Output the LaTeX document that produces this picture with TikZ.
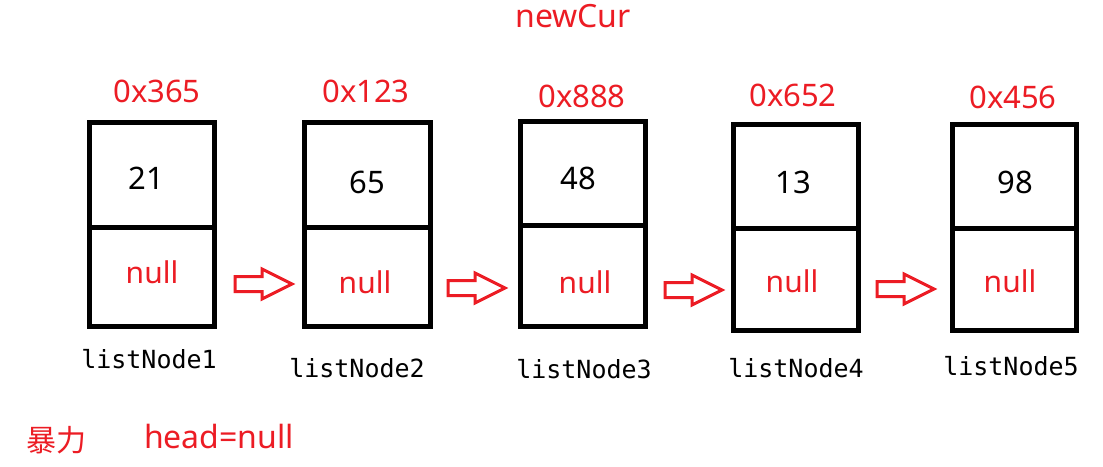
\documentclass[tikz,border=0pt]{standalone}
\usepackage{fontspec}
\setmainfont{Noto Sans}
\setmonofont{DejaVu Sans Mono}
\newfontfamily\cjk{Noto Sans CJK SC}
\definecolor{mred}{RGB}{236,28,36}
\begin{document}
\begin{tikzpicture}[x=1pt,y=-1pt,
  cellbox/.style={draw=black,line width=5pt,inner sep=0pt,minimum width=#1},
  val/.style={anchor=base,inner sep=0pt,font=\fontsize{31}{32}\selectfont},
  nul/.style={anchor=base,inner sep=0pt,text=mred,font=\fontsize{30}{32}\selectfont},
  addr/.style={anchor=base,inner sep=0pt,text=mred,font=\fontsize{31}{32}\selectfont},
  lname/.style={anchor=base,inner sep=0pt,font=\ttfamily\fontsize{25}{26}\selectfont},
  redtxt/.style={anchor=base,inner sep=0pt,text=mred,font=\fontsize{32}{34}\selectfont},
  harrow/.pic={\draw[mred,line width=3pt,line join=miter] (0,-7.5) -- (27,-7.5) -- (27,-15) -- (57,0) -- (27,15) -- (27,7.5) -- (0,7.5) -- cycle;}
]
\path[use as bounding box,fill=white] (0,0) rectangle (1103,466);

% boxes
\node[cellbox=125,minimum height=105] (c1t) at (151.5,174.5) {};
\node[cellbox=125,minimum height=99]  (c1b) at (151.5,276.5) {};
\node[cellbox=126,minimum height=105] (c2t) at (367,174.5) {};
\node[cellbox=126,minimum height=99]  (c2b) at (367,276.5) {};
\node[cellbox=125,minimum height=104] (c3t) at (582.5,173) {};
\node[cellbox=125,minimum height=101] (c3b) at (582.5,275.5) {};
\node[cellbox=125,minimum height=104] (c4t) at (795.5,176) {};
\node[cellbox=125,minimum height=102] (c4b) at (795.5,279) {};
\node[cellbox=124,minimum height=104] (c5t) at (1014,176) {};
\node[cellbox=124,minimum height=102] (c5b) at (1014,279) {};

% values
\node[val] (v1) at (146,189) {21};
\node[val] (v2) at (367,193) {65};
\node[val] (v3) at (578,189) {48};
\node[val] (v4) at (793,193) {13};
\node[val] (v5) at (1015,193) {98};

% null
\node[nul] (n1) at (152,283) {null};
\node[nul] (n2) at (365,293) {null};
\node[nul] (n3) at (585,293) {null};
\node[nul] (n4) at (792,292) {null};
\node[nul] (n5) at (1010,292) {null};

% addresses
\node[addr] (a1) at (157,102) {0x365};
\node[addr] (a2) at (366,102) {0x123};
\node[addr] (a3) at (582,107) {0x888};
\node[addr] (a4) at (793,106) {0x652};
\node[addr] (a5) at (1013,108) {0x456};
\node[redtxt] (nc) at (573,27) {newCur};

% names
\node[lname] (l1) at (149,368) {listNode1};
\node[lname] (l2) at (357,377) {listNode2};
\node[lname] (l3) at (584,378) {listNode3};
\node[lname] (l4) at (796,377) {listNode4};
\node[lname] (l5) at (1011,375) {listNode5};

% arrows
\pic at (235,284) {harrow};
\pic at (448,288) {harrow};
\pic at (665,290) {harrow};
\pic at (877,289) {harrow};

% bottom text
\node[inner sep=0pt,text=mred,font=\cjk\fontsize{30}{32}\selectfont] (bl) at (57,440) {暴力};
\node[redtxt] (hd) at (219,448) {head=null};
\end{tikzpicture}
\end{document}
